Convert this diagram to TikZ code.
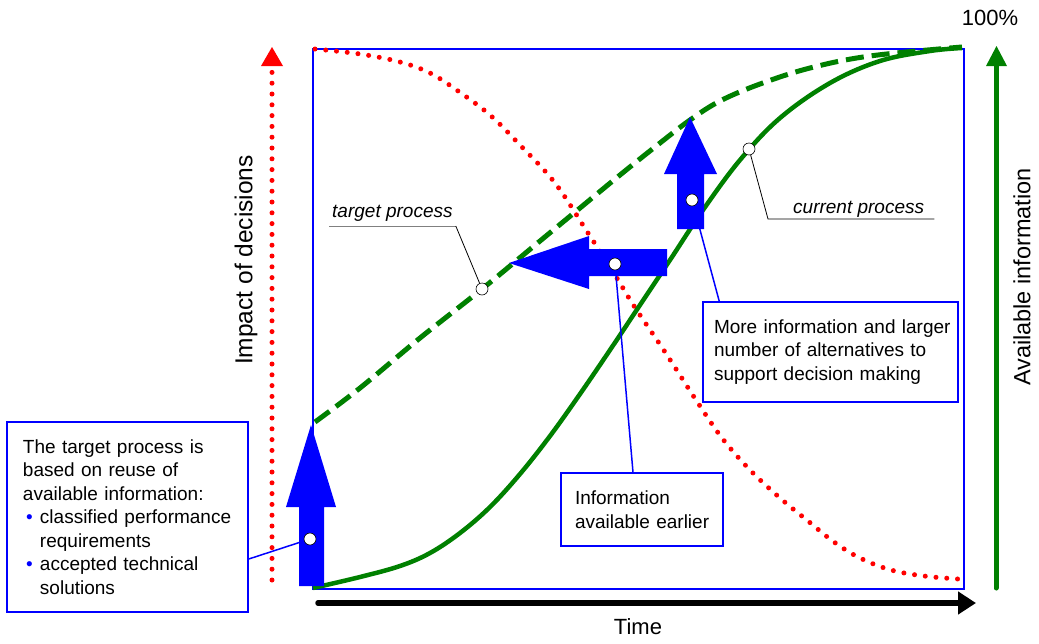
\documentclass[tikz,border=0pt]{standalone}
\usepackage{fontspec}
\setmainfont{Liberation Sans}
\usetikzlibrary{arrows.meta}
\definecolor{infogreen}{RGB}{0,128,0}
\tikzset{
    notebox/.style={draw=blue, line width=1.5pt, fill=white, align=left, font=\fontsize{19}{23.5}\selectfont},
    callout/.style={draw=blue, line width=1.5pt},
    marker/.style={circle, draw=black, fill=white, line width=0.6pt, minimum size=12pt, inner sep=0pt},
    proclabel/.style={font=\fontsize{19}{23}\selectfont\itshape, inner xsep=3pt},
    axislabel/.style={font=\fontsize{22}{26}\selectfont},
    reddots/.style={red, line width=5pt, line cap=round, dash pattern=on 0pt off 10.8pt}
}
\newcommand{\blueitem}[1]{\par\noindent\hangindent=17pt\hangafter=1\makebox[17pt][l]{\hspace{3pt}\textcolor{blue}{\textbullet}}#1\par}

\begin{document}
\begin{tikzpicture}[x=1pt, y=-1pt]
        \useasboundingbox (0,0) rectangle (1039,643);

        \draw [blue, line width=1.5pt] (313, 49) rectangle (964, 589);

        \draw [reddots] (272, 580) -- (272, 72);
        \fill [red] (261, 66) -- (283, 66) -- (272, 47) -- cycle;
        \draw [infogreen, line width=5pt, line cap=round] (996, 588) -- (996, 64);
        \fill [infogreen] (986, 66) -- (1007, 66) -- (996.5, 46) -- cycle;
        \draw [line width=5.5pt, line cap=round, -{Triangle[length=18pt, width=22pt]}] (318, 603) -- (976, 603);

        \draw [reddots] plot [smooth, tension=0.6] coordinates {(315,49) (360,54) (400,62) (430,73) (458,91) (490,115) (520,145) (555,183) (588,233) (615,275) (634,306) (665,352) (696,400) (722,438) (750,470) (780,498) (808,521) (834,542) (860,558) (891,570) (924,576) (958,579)};
        \draw [infogreen, line width=4.5pt] plot [smooth, tension=0.6] coordinates {(313,588) (360,577) (400,566) (430,553) (460,533) (490,507) (520,474) (550,436) (580,394) (610,350) (640,305) (670,260) (703,210) (740,160) (780,118) (830,83) (880,61) (930,51) (962,48)};
        \draw [infogreen, line width=5pt, dash pattern=on 18pt off 8pt] plot [smooth, tension=0.6] coordinates {(315,422) (360,388) (420,338) (482,289) (540,241) (580,208) (620,175) (660,143) (690,120) (720,101) (760,84) (810,68) (870,56) (962,47)};

        \fill [blue] (299, 586) -- (324, 586) -- (324, 507) -- (336, 507) -- (311, 425) -- (286, 507) -- (299, 507) -- cycle;
        \fill [blue] (667, 249) -- (667, 276) -- (589, 276) -- (589, 289) -- (509, 263) -- (589, 236) -- (589, 249) -- cycle;
        \fill [blue] (677, 229) -- (704, 229) -- (704, 174) -- (717, 174) -- (690, 117) -- (664, 174) -- (677, 174) -- cycle;

        \node [notebox, text width=209pt, inner xsep=16pt, minimum height=190pt] (reusebox) at (127.5, 517)
            {The target process is\\based on reuse of\\available information:\blueitem{\mbox{classified performance}\newline requirements}\blueitem{\mbox{accepted technical}\newline solutions}};
        \node [notebox, text width=134pt, inner xsep=14pt, minimum height=73pt] (earlybox) at (642, 509.5)
            {\mbox{Information}\\\mbox{available earlier}};
        \node [notebox, text width=233pt, inner xsep=11pt, minimum height=100pt] (morebox) at (830.5, 352)
            {\mbox{More information and larger}\\\mbox{number of alternatives to}\\\mbox{support decision making}};

        \node [marker] (reusedot) at (310, 539) {};
        \node [marker] (earlydot) at (615, 264) {};
        \node [marker] (moredot) at (692, 200) {};
        \node [marker] (targetdot) at (482, 289) {};
        \node [marker] (currentdot) at (749, 149) {};

        \draw [callout] (reusedot) -- ([yshift=-42pt]reusebox.east);
        \draw [callout] (earlydot) -- ([xshift=-9pt]earlybox.north);
        \draw [callout] (moredot) -- ([xshift=17pt]morebox.north west);

        \node [proclabel, anchor=base west] (targetlbl) at (329, 217) {target process};
        \draw [gray, line width=1pt] ([yshift=-9pt]targetlbl.base west) -- ([yshift=-9pt]targetlbl.base east);
        \draw [line width=0.8pt] ([yshift=-9pt]targetlbl.base east) -- (targetdot);
        \node [proclabel, anchor=base west] (currentlbl) at (790, 213) {current process};
        \draw [line width=0.8pt] (currentdot) -- ([xshift=-22pt, yshift=-6pt]currentlbl.base west) -- ([xshift=7pt, yshift=-6pt]currentlbl.base east);

        \node [axislabel] (timelbl) at (638, 627) {Time};
        \node [axislabel] (fulllbl) at (990, 18) {100\%};
        \node [axislabel, font=\fontsize{24.5}{28}\selectfont, rotate=90] (impactlbl) at (246, 260) {Impact of decisions};
        \node [axislabel, font=\fontsize{23.5}{28}\selectfont, rotate=90] (infolbl) at (1022, 277) {Available information};
\end{tikzpicture}
\end{document}
